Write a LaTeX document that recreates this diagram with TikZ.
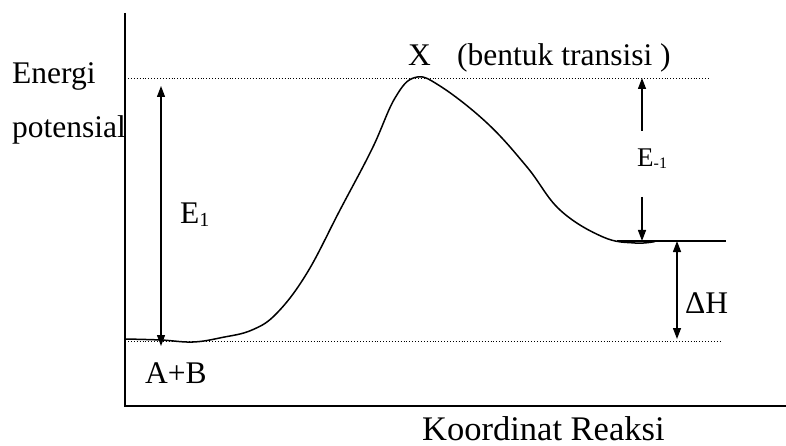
\documentclass[tikz,border=0pt]{standalone}
\usepackage{fontspec}
\setmainfont{Liberation Serif}
\usetikzlibrary{arrows.meta}
\begin{document}
\begin{tikzpicture}[x=1pt,y=-1pt,
  lbl/.style={inner sep=0pt,anchor=base west,font=\fontsize{31.5}{31.5}\selectfont},
  biglbl/.style={inner sep=0pt,anchor=base west,font=\fontsize{34.5}{34.5}\selectfont},
  smalllbl/.style={inner sep=0pt,anchor=base west,font=\fontsize{27}{27}\selectfont},
  axis/.style={line width=1.5pt},
  guide/.style={dotted,line width=0.9pt},
  dim/.style={line width=1.3pt,-{Triangle[length=11pt,width=8pt]}},
  dimboth/.style={line width=1.3pt,{Triangle[length=11pt,width=8pt]}-{Triangle[length=11pt,width=8pt]}},
  curve/.style={line width=1.5pt}]
\useasboundingbox (0,0) rectangle (786,446);
% axes
\coordinate (ytop) at (125,13);
\coordinate (orig) at (125,406);
\coordinate (xend) at (786,406);
\draw[axis] (ytop) -- (orig) -- (xend);
% guide lines
\coordinate (tl) at (128,78);
\coordinate (tr) at (710,78);
\coordinate (bl) at (128,341);
\coordinate (br) at (722,341);
\draw[guide] (tl) -- (tr);
\draw[guide] (bl) -- (br);
% product level
\coordinate (pl) at (617,241);
\coordinate (pr) at (726,241);
\draw[line width=1.3pt] (pl) -- (pr);
% reaction curve
\draw[curve] plot[smooth,tension=0.65] coordinates {
  (125,339) (161,340) (193,342) (222,337.5) (252,330)
  (277,313) (307,273) (340,210) (372,149) (395,98)
  (415,77.5) (440,86) (487,123) (527,167) (560,210)
  (603,237) (635,243) (655,241.5)};
% E1 arrow
\coordinate (e1t) at (161,86);
\coordinate (e1b) at (161,346);
\draw[dimboth] (e1b) -- (e1t);
% E-1 arrows
\coordinate (em1a) at (642,131);
\coordinate (em1at) at (642,78);
\coordinate (em1b) at (642,197);
\coordinate (em1bt) at (642,241);
\draw[dim] (em1a) -- (em1at);
\draw[dim] (em1b) -- (em1bt);
% Delta H arrow
\coordinate (dht) at (677,241);
\coordinate (dhb) at (677,339);
\draw[dimboth] (dhb) -- (dht);
% labels
\node[lbl] (energi) at (12,84) {Energi};
\node[lbl] (potensial) at (12,138) {potensial};
\node[lbl] (E1) at (180,223) {E\raisebox{-3pt}{\fontsize{20}{20}\selectfont 1}};
\node[lbl] (AB) at (145,383) {A+B};
\node[lbl] (X) at (408,66) {X};
\node[lbl] (bentuk) at (457,66) {(bentuk transisi )};
\node[smalllbl] (Em1) at (637,167) {E\raisebox{-2pt}{\fontsize{16}{16}\selectfont -1}};
\node[lbl] (dH) at (685,313) {ΔH};
\node[biglbl] (koord) at (422,440) {Koordinat Reaksi};
\end{tikzpicture}
\end{document}
